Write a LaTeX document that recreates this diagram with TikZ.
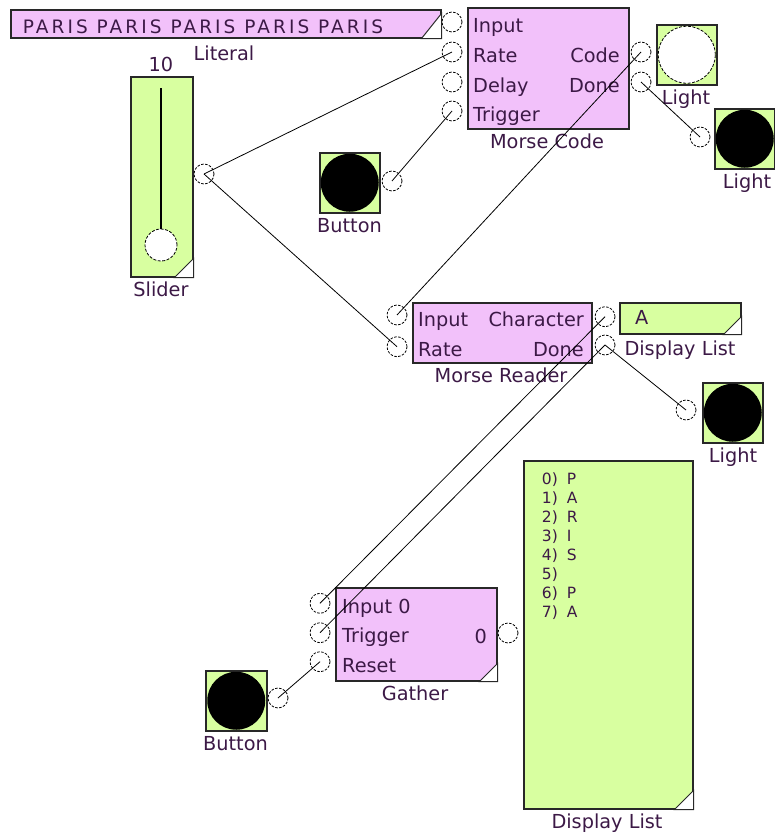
\documentclass[tikz,border=0pt]{standalone}
\usepackage{fontspec}
\setmainfont{DejaVu Sans}
\newfontfamily\litfont[LetterSpace=16.5]{DejaVu Sans}
\definecolor{pinkc}{RGB}{242,193,250}
\definecolor{greenc}{RGB}{216,255,160}
\definecolor{boxline}{RGB}{40,40,40}
\definecolor{textc}{RGB}{60,25,70}
\tikzset{
 pinkbox/.style={draw=boxline, line width=1.5pt, fill=pinkc, inner sep=0pt, anchor=north west},
 greenbox/.style={draw=boxline, line width=1.5pt, fill=greenc, inner sep=0pt, anchor=north west},
 port/.style={circle, draw=black, fill=white, line width=0.8pt, dash pattern=on 2.5pt off 1.5pt, minimum size=20pt, inner sep=0pt},
 wire/.style={draw=black, line width=0.8pt},
 txt/.style={font=\fontsize{19.3}{23}\selectfont, text=textc, inner sep=0pt},
 listtxt/.style={font=\fontsize{15.5}{19}\selectfont, text=textc, inner sep=0pt, anchor=base west},
 lamp/.style={circle, fill=black, minimum size=58pt, inner sep=0pt},
 hollow/.style={circle, fill=white, draw=black, line width=0.8pt, dash pattern=on 3pt off 1.5pt, inner sep=0pt},
 cornertri/.style={fill=white, draw=boxline, line width=1pt},
}
\newcommand\mycorner[3]{\filldraw[cornertri] ([shift={(-#2,0)}]#1.south east) -- (#1.south east) -- ([shift={(0,-#3)}]#1.south east) -- cycle;}
\begin{document}
\begin{tikzpicture}[x=1pt,y=-1pt]
\useasboundingbox (0,0) rectangle (775,835);

% ---------- boxes ----------
\node[pinkbox, minimum width=430pt, minimum height=28pt] (lit) at (10,9) {};
\mycorner{lit}{20}{25}
\node[pinkbox, minimum width=161pt, minimum height=121pt] (mc) at (467,7) {};
\node[greenbox, minimum width=60pt, minimum height=60pt] (l1) at (656,24) {};
\node[greenbox, minimum width=60pt, minimum height=60pt] (l2) at (714,108) {};
\node[greenbox, minimum width=62pt, minimum height=200pt] (sl) at (130,76) {};
\mycorner{sl}{19}{19}
\node[greenbox, minimum width=60pt, minimum height=60pt] (b1) at (319,152) {};
\node[pinkbox, minimum width=179pt, minimum height=60pt] (mr) at (412,302) {};
\node[greenbox, minimum width=121pt, minimum height=31pt] (dl1) at (619,302) {};
\mycorner{dl1}{18}{18}
\node[greenbox, minimum width=60pt, minimum height=60pt] (l3) at (702,382) {};
\node[pinkbox, minimum width=161pt, minimum height=93pt] (ga) at (335,587) {};
\mycorner{ga}{18}{18}
\node[greenbox, minimum width=61pt, minimum height=60pt] (b2) at (205,670) {};
\node[greenbox, minimum width=169pt, minimum height=348pt] (dl2) at (523,460) {};
\mycorner{dl2}{19}{19}

% ---------- lamps, buttons, slider ----------
\node[hollow, minimum size=57pt] (l1c) at (l1.center) {};
\node[lamp] (l2c) at (l2.center) {};
\node[lamp] (l3c) at (l3.center) {};
\node[lamp] (b1c) at (b1.center) {};
\node[lamp] (b2c) at (b2.center) {};
\draw[line width=1.2pt, black] (161,88) -- (161,229);
\node[hollow, minimum size=32pt] (knob) at (161,245) {};

% ---------- texts ----------
\node[anchor=base west, inner sep=0pt, text=textc, font=\litfont\fontsize{18.5}{22}\selectfont] (littxt) at (22.7,33.3) {PARIS PARIS PARIS PARIS PARIS};
\node[txt, anchor=base] (tlit) at (224,60) {Literal};
\node[txt, anchor=base] (tten) at (161,71) {10};
\node[txt, anchor=base] (tsl) at (161,296.5) {Slider};
\node[txt, anchor=base west] (tmc1) at (473,32.7) {Input};
\node[txt, anchor=base west] (tmc2) at (473,62.7) {Rate};
\node[txt, anchor=base west] (tmc3) at (473,92.7) {Delay};
\node[txt, anchor=base west] (tmc4) at (473,121.7) {Trigger};
\node[txt, anchor=base east] (tmc5) at (620,62.7) {Code};
\node[txt, anchor=base east] (tmc6) at (620,92.7) {Done};
\node[txt, anchor=base] (tmc) at (547,148) {Morse Code};
\node[txt, anchor=base] (tl1) at (686,104) {Light};
\node[txt, anchor=base] (tl2) at (747,188) {Light};
\node[txt, anchor=base] (tb1) at (349.5,232) {Button};
\node[txt, anchor=base west] (tmr1) at (418,326.7) {Input};
\node[txt, anchor=base west] (tmr2) at (418,356.7) {Rate};
\node[txt, anchor=base east] (tmr3) at (584,326.7) {Character};
\node[txt, anchor=base east] (tmr4) at (584,356.7) {Done};
\node[txt, anchor=base] (tmr) at (501,382.7) {Morse Reader};
\node[txt, anchor=base west] (tdl1) at (635,324) {A};
\node[txt, anchor=base] (tdl1l) at (680,355) {Display List};
\node[txt, anchor=base] (tl3) at (733,462.5) {Light};
\node[txt, anchor=base west] (tga1) at (342,613) {Input 0};
\node[txt, anchor=base west] (tga2) at (342,642.7) {Trigger};
\node[txt, anchor=base west] (tga3) at (342,672.7) {Reset};
\node[txt, anchor=base east] (tga4) at (487,643) {0};
\node[txt, anchor=base] (tga) at (415,700) {Gather};
\node[txt, anchor=base] (tb2) at (235.5,750) {Button};
\node[txt, anchor=base] (tdl2) at (607,828.5) {Display List};
\foreach \i/\c in {0/P,1/A,2/R,3/I,4/S,5/{},6/P,7/A}{
  \node[listtxt] (row\i) at (541.7,{484+19.14*\i}) {\makebox[25pt][l]{\i)}\c};
}

% ---------- ports ----------
\node[port] (mcin) at (452,22) {};
\node[port] (mcrate) at (452,52) {};
\node[port] (mcdelay) at (452,82) {};
\node[port] (mctrig) at (452,111) {};
\node[port] (mccode) at (641,52) {};
\node[port] (mcdone) at (641,82) {};
\node[port] (l2in) at (700,137) {};
\node[port] (slout) at (204,174) {};
\node[port] (b1out) at (392,181) {};
\node[port] (mrin) at (397,315) {};
\node[port] (mrrate) at (397,346.7) {};
\node[port] (mrchar) at (605,316.7) {};
\node[port] (mrdone) at (605,345) {};
\node[port] (l3in) at (686,410) {};
\node[port] (gain) at (320,603.3) {};
\node[port] (gatrig) at (320,632.7) {};
\node[port] (gareset) at (320,661.7) {};
\node[port] (gaout) at (508,633) {};
\node[port] (b2out) at (278,698) {};

% ---------- wires ----------
\draw[wire] (slout.center) -- (mcrate.center);
\draw[wire] (slout.center) -- (mrrate.center);
\draw[wire] (b1out.center) -- (mctrig.center);
\draw[wire] (mccode.center) -- (mrin.center);
\draw[wire] (mcdone.center) -- (l2in.center);
\draw[wire] (mrchar.center) -- (gain.center);
\draw[wire] (mrdone.center) -- (gatrig.center);
\draw[wire] (mrdone.center) -- (l3in.center);
\draw[wire] (b2out.center) -- (gareset.center);
\end{tikzpicture}
\end{document}
